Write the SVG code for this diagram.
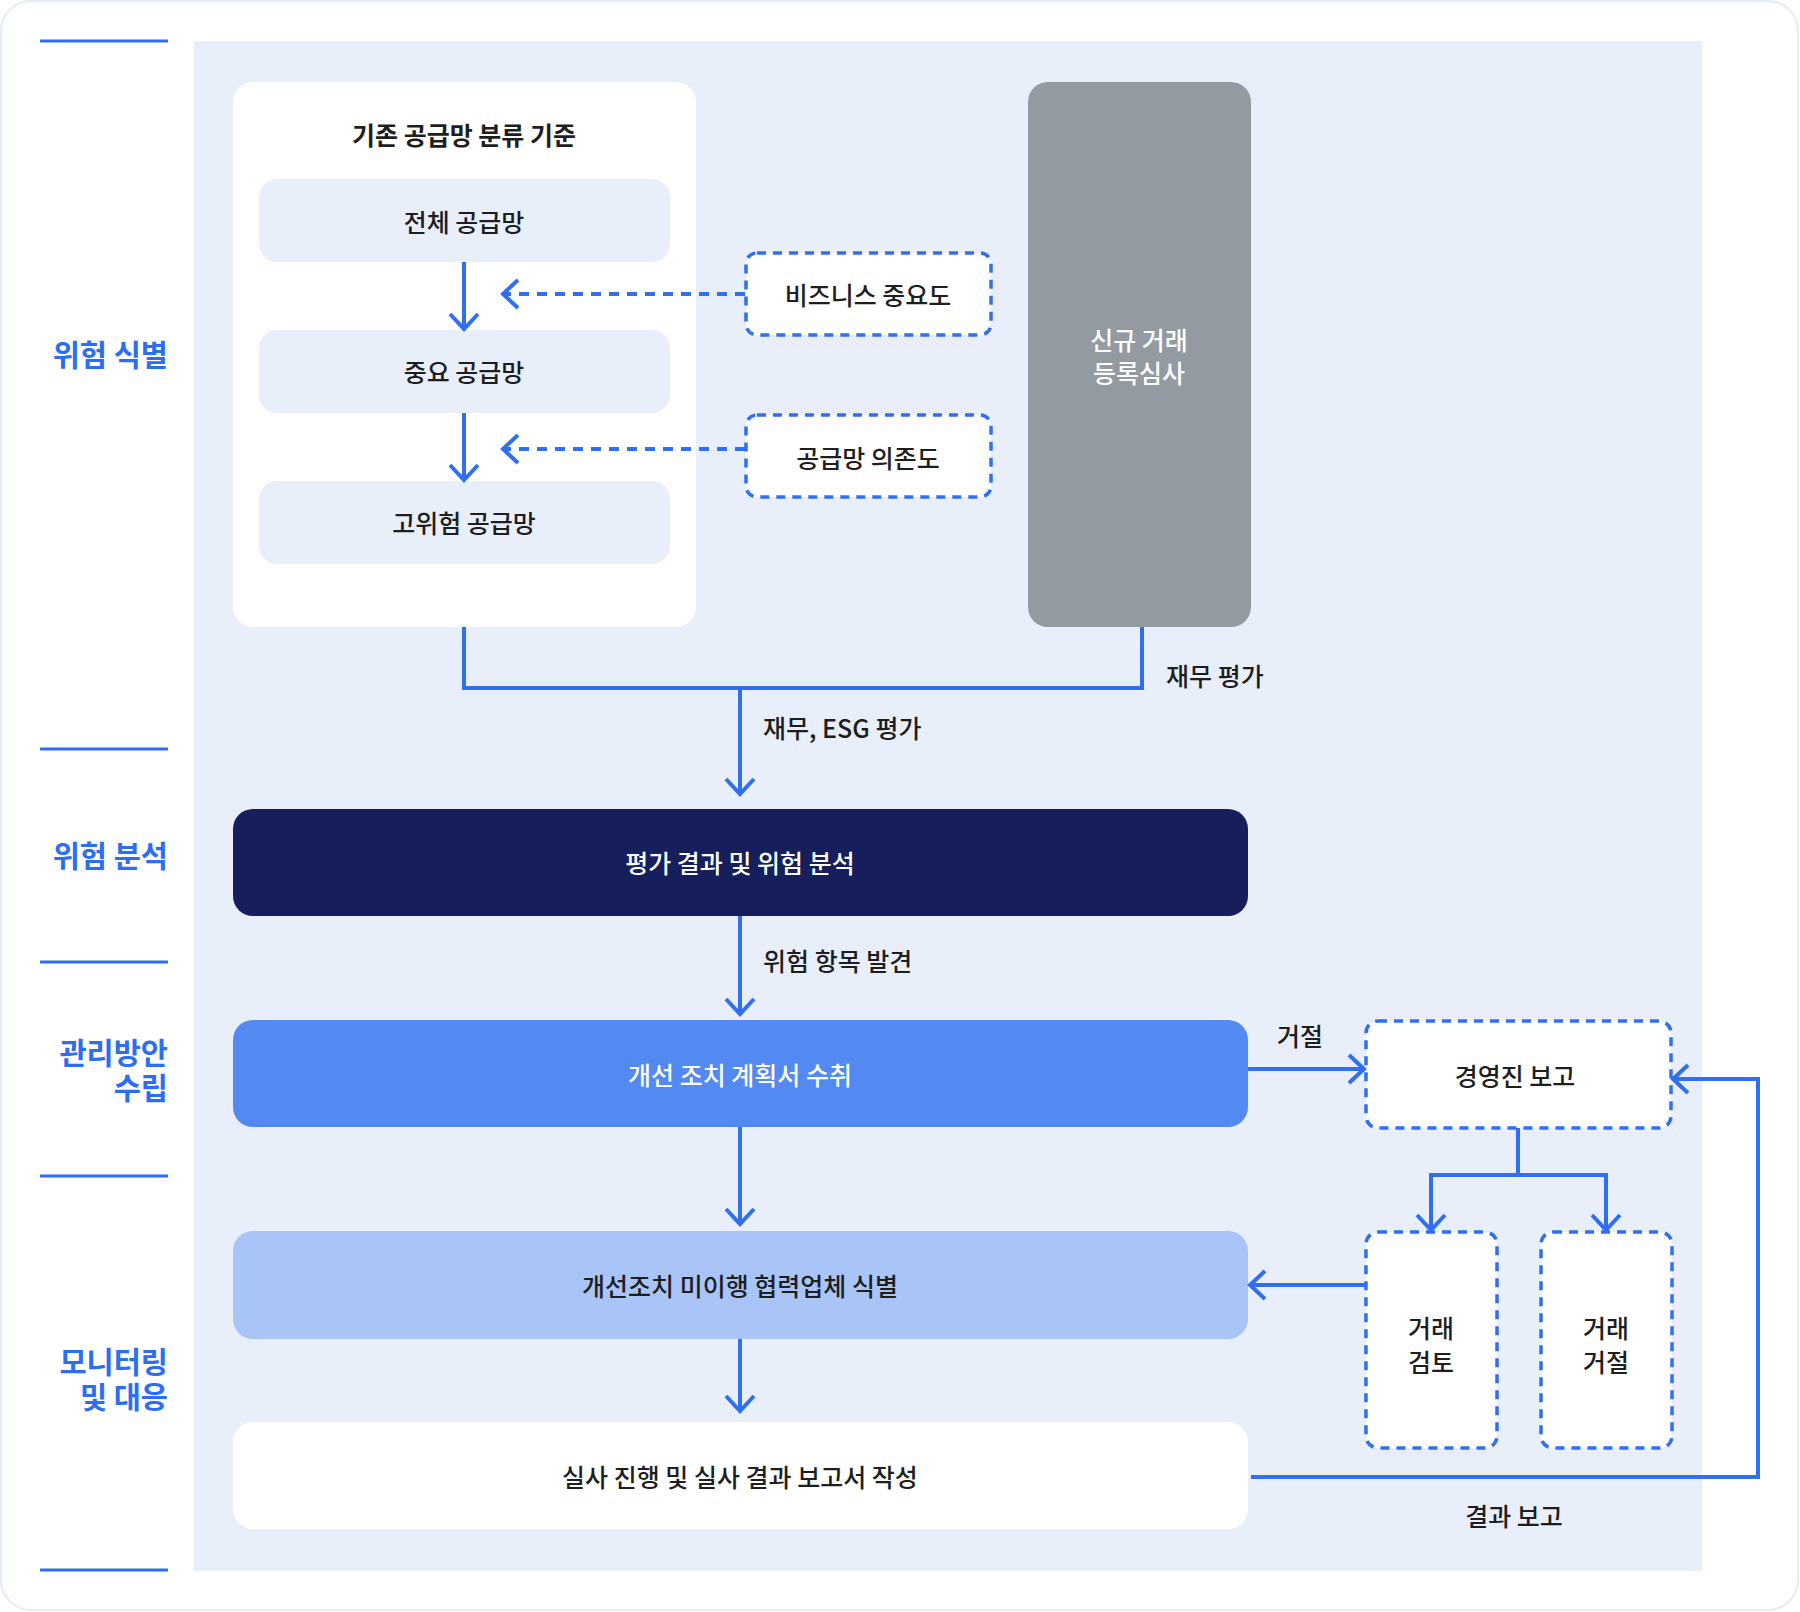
<svg xmlns="http://www.w3.org/2000/svg" width="1800" height="1612" viewBox="0 0 1800 1612">
  <defs>
    <style>
      text { font-family: "Noto Sans CJK KR", "Noto Sans", sans-serif; }
      .t { font-size: 25px; font-weight: 500; fill: #1e1e1e; text-anchor: middle; dominant-baseline: central; }
      .tw { font-size: 25px; font-weight: 500; fill: #ffffff; text-anchor: middle; dominant-baseline: central; }
      .lbl { font-size: 25px; font-weight: 500; fill: #1e1e1e; dominant-baseline: central; }
      .side { font-size: 29.5px; font-weight: 700; fill: #2c6ef2; text-anchor: end; dominant-baseline: central; }
      .sep { stroke: #2c6ef2; stroke-width: 3; }
      .ln { fill: none; stroke: #2f6ff0; stroke-width: 4; }
      .dash { fill: none; stroke: #2f6ff0; stroke-width: 4; stroke-dasharray: 10 8; }
      .dbox { fill: #ffffff; stroke: #2f6ff0; stroke-width: 3.5; stroke-dasharray: 9 7; }
    </style>
    <marker id="ah" markerUnits="userSpaceOnUse" viewBox="-20 -20 24 40" markerWidth="24" markerHeight="40" refX="0" refY="0" orient="auto" overflow="visible">
      <path d="M -15 -14 L 0 0 L -15 14" fill="none" stroke="#2f6ff0" stroke-width="4" stroke-dasharray="none"/>
    </marker>
  </defs>

  <rect x="1" y="1" width="1797" height="1609" rx="30" fill="#ffffff" stroke="#e6ecf6" stroke-width="2"/>
  <rect x="194" y="41" width="1508" height="1530" fill="#e8eefa"/>

  <g id="side-labels">
    <line class="sep" x1="40" y1="41" x2="168" y2="41"/>
    <line class="sep" x1="40" y1="749" x2="168" y2="749"/>
    <line class="sep" x1="40" y1="962" x2="168" y2="962"/>
    <line class="sep" x1="40" y1="1176" x2="168" y2="1176"/>
    <line class="sep" x1="40" y1="1570" x2="168" y2="1570"/>
    <text class="side" x="168" y="353">위험 식별</text>
    <text class="side" x="168" y="854">위험 분석</text>
    <text class="side" x="168" y="1051"><tspan x="168" y="1051">관리방안</tspan><tspan x="168" y="1086">수립</tspan></text>
    <text class="side" x="168" y="1360"><tspan x="168" y="1360">모니터링</tspan><tspan x="168" y="1395">및 대응</tspan></text>
  </g>

  <g id="existing-criteria">
    <rect x="233" y="82" width="463" height="545" rx="20" fill="#ffffff"/>
    <text class="t" x="464" y="134" style="font-weight:700">기존 공급망 분류 기준</text>
  </g>
  <g id="all-supply">
    <rect x="259" y="179" width="411" height="83" rx="18" fill="#e8eefa"/>
    <text class="t" x="464" y="221">전체 공급망</text>
  </g>
  <g id="key-supply">
    <rect x="259" y="330" width="411" height="83" rx="18" fill="#e8eefa"/>
    <text class="t" x="464" y="371">중요 공급망</text>
  </g>
  <g id="high-risk-supply">
    <rect x="259" y="481" width="411" height="83" rx="18" fill="#e8eefa"/>
    <text class="t" x="464" y="522">고위험 공급망</text>
  </g>
  <g id="business-importance">
    <rect class="dbox" x="746" y="253" width="245" height="82" rx="11"/>
    <text class="t" x="868" y="294">비즈니스 중요도</text>
  </g>
  <g id="supply-dependence">
    <rect class="dbox" x="746" y="415" width="245" height="82" rx="11"/>
    <text class="t" x="868" y="457">공급망 의존도</text>
  </g>
  <g id="new-registration">
    <rect x="1028" y="82" width="223" height="545" rx="20" fill="#939aa1"/>
    <text class="tw" x="1139" y="339"><tspan x="1139" y="339">신규 거래</tspan><tspan x="1139" y="372">등록심사</tspan></text>
  </g>
  <g id="risk-analysis">
    <rect x="233" y="809" width="1015" height="107" rx="20" fill="#161f5b"/>
    <text class="tw" x="740" y="862">평가 결과 및 위험 분석</text>
  </g>
  <g id="plan-receipt">
    <rect x="233" y="1020" width="1015" height="107" rx="20" fill="#528af1"/>
    <text class="tw" x="740" y="1074">개선 조치 계획서 수취</text>
  </g>
  <g id="non-compliance">
    <rect x="233" y="1231" width="1015" height="108" rx="20" fill="#a9c4f6"/>
    <text class="t" x="740" y="1285">개선조치 미이행 협력업체 식별</text>
  </g>
  <g id="due-diligence">
    <rect x="233" y="1422" width="1015" height="107" rx="20" fill="#ffffff"/>
    <text class="t" x="740" y="1476">실사 진행 및 실사 결과 보고서 작성</text>
  </g>
  <g id="exec-report">
    <rect class="dbox" x="1366" y="1021" width="305" height="107" rx="12"/>
    <text class="t" x="1515" y="1075">경영진 보고</text>
  </g>
  <g id="deal-review">
    <rect class="dbox" x="1366" y="1232" width="131" height="216" rx="12"/>
    <text class="t" x="1431" y="1327"><tspan x="1431" y="1327">거래</tspan><tspan x="1431" y="1361">검토</tspan></text>
  </g>
  <g id="deal-reject">
    <rect class="dbox" x="1541" y="1232" width="131" height="216" rx="12"/>
    <text class="t" x="1606" y="1327"><tspan x="1606" y="1327">거래</tspan><tspan x="1606" y="1361">거절</tspan></text>
  </g>

  <g id="connectors">
    <path class="ln" d="M 464 262 L 464 329" marker-end="url(#ah)"/>
    <path class="ln" d="M 464 413 L 464 480" marker-end="url(#ah)"/>
    <path class="dash" d="M 745 294 L 503 294" marker-end="url(#ah)"/>
    <path class="dash" d="M 745 449 L 503 449" marker-end="url(#ah)"/>
    <path class="ln" d="M 464 627 L 464 688 L 1142 688 L 1142 627"/>
    <path class="ln" d="M 740 688 L 740 794" marker-end="url(#ah)"/>
    <path class="ln" d="M 740 916 L 740 1014" marker-end="url(#ah)"/>
    <path class="ln" d="M 740 1127 L 740 1224" marker-end="url(#ah)"/>
    <path class="ln" d="M 740 1339 L 740 1411" marker-end="url(#ah)"/>
    <path class="ln" d="M 1248 1069 L 1364 1069" marker-end="url(#ah)"/>
    <path class="ln" d="M 1518 1128 L 1518 1175"/>
    <path class="ln" d="M 1431 1230 L 1431 1175 L 1606 1175 L 1606 1230" marker-end="url(#ah)"/>
    <path class="ln" d="M 1431 1175 L 1431 1230" marker-end="url(#ah)"/>
    <path class="ln" d="M 1365 1285 L 1250 1285" marker-end="url(#ah)"/>
    <path class="ln" d="M 1251 1477 L 1758 1477 L 1758 1079 L 1673 1079" marker-end="url(#ah)"/>
    <text class="lbl" x="1166" y="675">재무 평가</text>
    <text class="lbl" x="763" y="727">재무, ESG 평가</text>
    <text class="lbl" x="763" y="960">위험 항목 발견</text>
    <text class="t" x="1300" y="1035">거절</text>
    <text class="t" x="1514" y="1515">결과 보고</text>
  </g>
</svg>
